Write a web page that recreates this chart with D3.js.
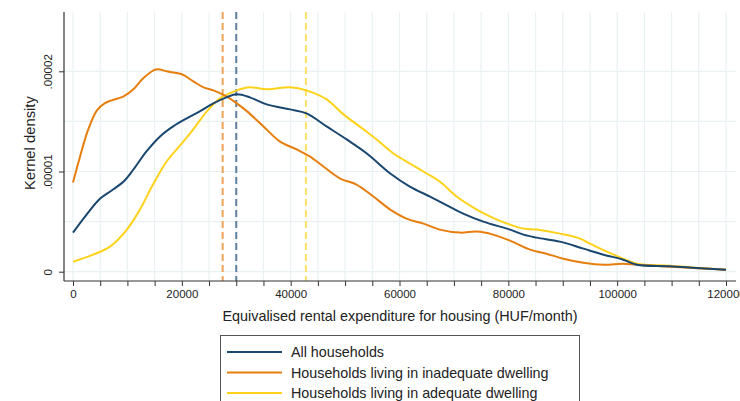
<!DOCTYPE html>
<html>
<head>
<meta charset="utf-8">
<script src="https://cdn.jsdelivr.net/npm/d3@7"></script>
<style>
  html, body { margin: 0; padding: 0; background: #fff; }
  svg { display: block; font-family: "Liberation Sans", Arial, Helvetica, sans-serif; }
</style>
</head>
<body>
<svg id="chart" width="740" height="401"></svg>
<script>
// Kernel density estimates of equivalised rental expenditure (HUF/month)
const seriesNames = ["All households", "Households living in inadequate dwelling", "Households living in adequate dwelling"];
const seriesColors = ["#1a476f", "#e67e0e", "#ffd21a"];
const meanColors = ["#5f7fa0", "#eea258", "#ffe066"];

// Densities in units of 1e-5
const allX = [0, 2500, 5000, 7100, 9300, 11100, 13500, 16000, 18400, 20900, 23300, 25800, 28200, 30100, 32500, 35600, 39900, 42900, 46600, 50300, 54000, 58300, 61900, 65600, 68100, 71700, 75400, 80300, 82800, 85200, 89500, 93800, 97500, 101100, 103600, 109700, 114600, 120000];
const allY = [0.39, 0.57, 0.73, 0.81, 0.90, 1.02, 1.20, 1.35, 1.45, 1.53, 1.60, 1.68, 1.74, 1.77, 1.74, 1.67, 1.62, 1.58, 1.45, 1.32, 1.18, 0.98, 0.85, 0.75, 0.68, 0.58, 0.50, 0.42, 0.37, 0.34, 0.30, 0.23, 0.17, 0.12, 0.07, 0.055, 0.038, 0.02];

const inadX = [0, 1300, 2800, 4400, 5800, 7100, 9300, 11100, 12900, 14800, 15700, 17200, 20000, 22100, 24000, 25800, 28200, 30100, 32000, 35000, 38000, 41100, 43500, 46000, 49100, 52100, 55200, 58300, 61300, 64400, 67400, 71100, 74200, 77200, 80300, 84000, 87000, 90100, 93800, 97500, 101100, 103600, 109700, 114600, 120000];
const inadY = [0.89, 1.15, 1.42, 1.61, 1.68, 1.71, 1.75, 1.82, 1.93, 2.01, 2.02, 2.00, 1.97, 1.90, 1.84, 1.81, 1.75, 1.68, 1.60, 1.45, 1.30, 1.22, 1.15, 1.05, 0.93, 0.87, 0.75, 0.62, 0.53, 0.48, 0.42, 0.39, 0.40, 0.37, 0.31, 0.22, 0.18, 0.13, 0.09, 0.07, 0.08, 0.07, 0.05, 0.035, 0.02];

const adeqX = [0, 3700, 6800, 9900, 12300, 14800, 17200, 20000, 22100, 24600, 27000, 30100, 32500, 35600, 39900, 42900, 46600, 49700, 53400, 55800, 58900, 61900, 65000, 67400, 70500, 74200, 77900, 80300, 82800, 85200, 89500, 93200, 95000, 98100, 101100, 103600, 109700, 114600, 120000];
const adeqY = [0.10, 0.17, 0.25, 0.42, 0.62, 0.88, 1.10, 1.28, 1.42, 1.60, 1.73, 1.81, 1.84, 1.82, 1.84, 1.81, 1.72, 1.57, 1.42, 1.32, 1.18, 1.08, 0.98, 0.90, 0.75, 0.62, 0.52, 0.47, 0.43, 0.42, 0.38, 0.33, 0.28, 0.20, 0.13, 0.08, 0.06, 0.04, 0.02];

// Group means (vertical dashed lines)
const meanValues = [30000, 27500, 42800];

const xTickValues = [0, 20000, 40000, 60000, 80000, 100000, 120000];
const yTickValues = [0, 0.00001, 0.00002];
const yTickLabels = ["0", ".00001", ".00002"];

const svg = d3.select("#chart");

const x = d3.scaleLinear().domain([0, 120000]).range([73, 726]);
const y = d3.scaleLinear().domain([0, 0.00002]).range([271.7, 71.3]);

const plotLeft = 64, plotRight = 736, plotTop = 12, plotBottom = 281;

// Grid
const grid = svg.append("g").attr("stroke", "#e9f1f3").attr("stroke-width", 1.2);
d3.range(0, 120001, 5000).forEach(v => {
  grid.append("line").attr("x1", x(v)).attr("x2", x(v)).attr("y1", plotTop).attr("y2", plotBottom);
});
d3.range(0, 0.0000201, 0.000005).forEach(v => {
  grid.append("line").attr("x1", plotLeft).attr("x2", plotRight).attr("y1", y(v)).attr("y2", y(v));
});

// Mean lines
meanValues.forEach((m, i) => {
  svg.append("line")
    .attr("x1", x(m)).attr("x2", x(m))
    .attr("y1", plotTop).attr("y2", plotBottom)
    .attr("stroke", meanColors[i]).attr("stroke-width", 2)
    .attr("stroke-dasharray", "7,4");
});

// Density curves
const series = [
  { xs: allX, ys: allY },
  { xs: inadX, ys: inadY },
  { xs: adeqX, ys: adeqY }
];
const line = d3.line()
  .x(d => x(d[0]))
  .y(d => y(d[1] * 1e-5))
  .curve(d3.curveCatmullRom.alpha(0.5));

// Drawing order: adequate, inadequate, all on top
[2, 1, 0].forEach(i => {
  const pts = series[i].xs.map((v, k) => [v, series[i].ys[k]]);
  svg.append("path")
    .attr("d", line(pts))
    .attr("fill", "none")
    .attr("stroke", seriesColors[i])
    .attr("stroke-width", 2);
});

// Axes
const axisColor = "#333";
const xAxis = d3.axisBottom(x).tickValues(d3.range(0, 120001, 5000)).tickSize(5)
  .tickFormat(d => xTickValues.includes(d) ? d3.format("d")(d) : "");
const gx = svg.append("g").attr("transform", `translate(0,${plotBottom})`).call(xAxis);
gx.select(".domain").attr("d", `M${plotLeft},0H${plotRight}`).attr("stroke", axisColor).attr("stroke-width", 1.2);
gx.selectAll(".tick line").attr("stroke", axisColor);
gx.selectAll(".tick text").attr("font-size", 11.5).attr("fill", "#222").attr("y", 9)
  .attr("font-family", "'Liberation Sans', Arial, sans-serif");

const yAxis = d3.axisLeft(y).tickValues(yTickValues).tickSize(5)
  .tickFormat((d, i) => yTickLabels[i]);
const gy = svg.append("g").attr("transform", `translate(${plotLeft},0)`).call(yAxis);
gy.select(".domain").attr("d", `M0,${plotTop}V${plotBottom}`).attr("stroke", axisColor).attr("stroke-width", 1.2);
gy.selectAll(".tick line").attr("stroke", axisColor);
gy.selectAll(".tick text")
  .attr("font-size", 11.5).attr("fill", "#222")
  .attr("font-family", "'Liberation Sans', Arial, sans-serif")
  .attr("x", null).attr("dy", null)
  .attr("text-anchor", "middle")
  .attr("transform", "translate(-12,0) rotate(-90)");

// Axis titles
svg.append("text")
  .attr("x", 400).attr("y", 321)
  .attr("text-anchor", "middle")
  .attr("font-size", 14.4).attr("fill", "#222")
  .text("Equivalised rental expenditure for housing (HUF/month)");

svg.append("text")
  .attr("transform", "translate(34.5,143) rotate(-90)")
  .attr("text-anchor", "middle")
  .attr("font-size", 14.8).attr("fill", "#222")
  .text("Kernel density");

// Legend
const legend = svg.append("g");
legend.append("rect")
  .attr("x", 220.5).attr("y", 335.5).attr("width", 359).attr("height", 80)
  .attr("fill", "#fff").attr("stroke", "#555").attr("stroke-width", 1);
seriesNames.forEach((name, i) => {
  const ly = 352 + i * 20.5;
  legend.append("line")
    .attr("x1", 227).attr("x2", 282).attr("y1", ly).attr("y2", ly)
    .attr("stroke", seriesColors[i]).attr("stroke-width", 2);
  legend.append("text")
    .attr("x", 291).attr("y", ly + 5)
    .attr("font-size", 14.3).attr("fill", "#222")
    .text(name);
});
</script>
</body>
</html>
